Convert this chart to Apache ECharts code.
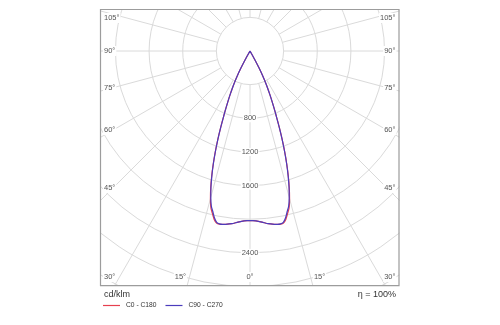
<!DOCTYPE html>
<html>
<head>
<meta charset="utf-8">
<script src="https://cdn.jsdelivr.net/npm/echarts@6/dist/echarts.min.js"></script>
<style>
  html, body { margin: 0; padding: 0; background: #fff; }
  #chart { width: 500px; height: 325px; }
</style>
</head>
<body>
<div id="chart"></div>
<script>
// Luminous intensity distribution (cd/klm), angle measured from nadir.
const angles = [-90, -30, -29, -28, -27, -26, -25, -24, -23, -22, -21, -20, -19, -18, -17, -16, -15, -14, -13, -12, -11, -10, -9, -8, -6, -4, -2,
  0, 2, 4, 6, 8, 9, 10, 11, 12, 13, 14, 15, 16, 17, 18, 19, 20, 21, 22, 23, 24, 25, 26, 27, 28, 29, 30, 90];

const c0c180 = [0, 0, 125, 230, 340, 436, 524, 617, 721, 834, 972, 1120, 1268, 1416, 1560, 1695, 1818, 1922, 1985, 2048, 2085, 2092, 2088, 2082, 2065, 2040, 2022,
  2015, 2022, 2040, 2065, 2082, 2088, 2092, 2085, 2048, 1985, 1922, 1818, 1695, 1560, 1416, 1268, 1120, 972, 834, 721, 617, 524, 436, 340, 230, 125, 0, 0];

const c90c270 = [0, 0, 125, 230, 340, 436, 524, 617, 721, 834, 969, 1117, 1264, 1410, 1550, 1684, 1801, 1901, 1962, 2030, 2075, 2088, 2088, 2082, 2065, 2040, 2022,
  2015, 2022, 2040, 2065, 2082, 2088, 2088, 2075, 2030, 1962, 1901, 1801, 1684, 1550, 1410, 1264, 1117, 969, 834, 721, 617, 524, 436, 340, 230, 125, 0, 0];

const seriesNames = ['C0 - C180', 'C90 - C270'];
const ringLabels = [800, 1200, 1600, 2400];
const angleTicks = [105, 90, 75, 60, 45, 30, 15, 0];
const unitLabel = 'cd/klm';
const efficiencyLabel = 'η = 100%';

// Layout
const CX = 250, CY = 51;
const PX_PER_CD = 33.64 / 400;
const R_MAX = 4000;
const RING_STEP = 400;
const BOX = { x1: 100, y1: 9, x2: 399.5, y2: 285.7 };
const FONT = '"Liberation Sans", Arial, sans-serif';
const GRID_COLOR = '#dadada';
const LABEL_COLOR = '#555';
const RED = '#e6404f';
const BLUE = '#4b3cbc';

const chart = echarts.init(document.getElementById('chart'), null, { renderer: 'canvas' });

// Angle labels sit inside the frame where the radial lines run out.
function angleLabelElements() {
  const els = [];
  const sideInset = 137;
  const bottomY = 277;
  angleTicks.forEach(a => {
    const sides = a === 0 ? [0] : [-1, 1];
    sides.forEach(s => {
      const rad = a * Math.PI / 180;
      let x, y, align;
      if (a >= 45) {
        y = Math.max(CY + sideInset * Math.cos(rad) / Math.sin(rad), 18);
        x = s < 0 ? BOX.x1 + 3 : BOX.x2 - 3;
        align = s < 0 ? 'left' : 'right';
      } else {
        y = bottomY;
        const xi = CX + s * (BOX.y2 - CY) * Math.tan(rad);
        if (s === 0) { x = CX; align = 'center'; }
        else if (s < 0) {
          if (xi - 14 < BOX.x1 + 3) { x = BOX.x1 + 3; align = 'left'; }
          else { x = xi; align = 'right'; }
        } else {
          if (xi + 14 > BOX.x2 - 3) { x = BOX.x2 - 3; align = 'right'; }
          else { x = xi; align = 'left'; }
        }
      }
      els.push({
        type: 'text', x: x, y: y, z: 60,
        style: {
          text: a + '°', align: align, verticalAlign: 'middle',
          fill: LABEL_COLOR, font: '7.5px ' + FONT,
          backgroundColor: '#fff', padding: [1, 1]
        }
      });
    });
  });
  return els;
}

const W = 500, H = 325;
const masks = [
  { type: 'rect', z: 50, shape: { x: 0, y: 0, width: W, height: BOX.y1 }, style: { fill: '#fff' } },
  { type: 'rect', z: 50, shape: { x: 0, y: 0, width: BOX.x1, height: H }, style: { fill: '#fff' } },
  { type: 'rect', z: 50, shape: { x: BOX.x2, y: 0, width: W - BOX.x2, height: H }, style: { fill: '#fff' } },
  { type: 'rect', z: 50, shape: { x: 0, y: BOX.y2, width: W, height: H - BOX.y2 }, style: { fill: '#fff' } },
  { type: 'rect', z: 51, shape: { x: BOX.x1 + 0.5, y: BOX.y1 + 0.5, width: BOX.x2 - BOX.x1 - 1, height: BOX.y2 - BOX.y1 - 0.5 },
    style: { fill: 'none', stroke: '#9c9c9c', lineWidth: 1.2 } }
];

const texts = [
  { type: 'text', x: 104, y: 295, z: 60,
    style: { text: unitLabel, align: 'left', verticalAlign: 'middle', fill: '#333', font: '9px ' + FONT } },
  { type: 'text', x: 396, y: 295, z: 60,
    style: { text: efficiencyLabel, align: 'right', verticalAlign: 'middle', fill: '#333', font: '9px ' + FONT } }
];

const option = {
  animation: false,
  backgroundColor: '#fff',
  polar: [
    { center: [CX, CY], radius: [RING_STEP * PX_PER_CD, R_MAX * PX_PER_CD] },
    { center: [CX, CY], radius: R_MAX * PX_PER_CD }
  ],
  angleAxis: [
    {
      polarIndex: 0, type: 'value', min: 0, max: 360, interval: 15, startAngle: 270,
      axisLine: { show: false }, axisTick: { show: false }, axisLabel: { show: false },
      splitLine: { show: true, lineStyle: { color: GRID_COLOR, width: 1 } }, z: 0
    },
    { polarIndex: 1, type: 'value', min: -180, max: 180, startAngle: 90, show: false }
  ],
  radiusAxis: [
    {
      polarIndex: 0, type: 'value', min: RING_STEP, max: R_MAX, interval: RING_STEP,
      axisLine: { show: false }, axisTick: { show: false },
      splitLine: { show: true, lineStyle: { color: GRID_COLOR, width: 1 } },
      axisLabel: {
        show: true, margin: 0, align: 'center', verticalAlign: 'middle',
        formatter: v => ringLabels.includes(v) ? String(v) : '',
        color: LABEL_COLOR, fontSize: 7.5, fontFamily: FONT,
        backgroundColor: '#fff', padding: [0, 1]
      },
      z: 1
    },
    { polarIndex: 1, type: 'value', min: 0, max: R_MAX, show: false }
  ],
  legend: {
    data: seriesNames, left: 103, top: 302, padding: 0,
    icon: 'rect', itemWidth: 17, itemHeight: 1.2, itemGap: 9, z: 60,
    textStyle: { fontSize: 6.7, color: '#333', fontFamily: FONT, padding: [0, 0, 0, 1] }
  },
  graphic: { elements: masks.concat(texts, angleLabelElements()) },
  series: [
    {
      name: seriesNames[0], type: 'line', coordinateSystem: 'polar', polarIndex: 1,
      data: angles.map((a, i) => [c0c180[i], a]),
      symbol: 'none', smooth: 0.2,
      lineStyle: { color: RED, width: 1.2 }, itemStyle: { color: RED }, z: 3
    },
    {
      name: seriesNames[1], type: 'line', coordinateSystem: 'polar', polarIndex: 1,
      data: angles.map((a, i) => [c90c270[i], a]),
      symbol: 'none', smooth: 0.2,
      lineStyle: { color: BLUE, width: 1.2 }, itemStyle: { color: BLUE }, z: 4
    }
  ]
};

chart.setOption(option);
</script>
</body>
</html>
